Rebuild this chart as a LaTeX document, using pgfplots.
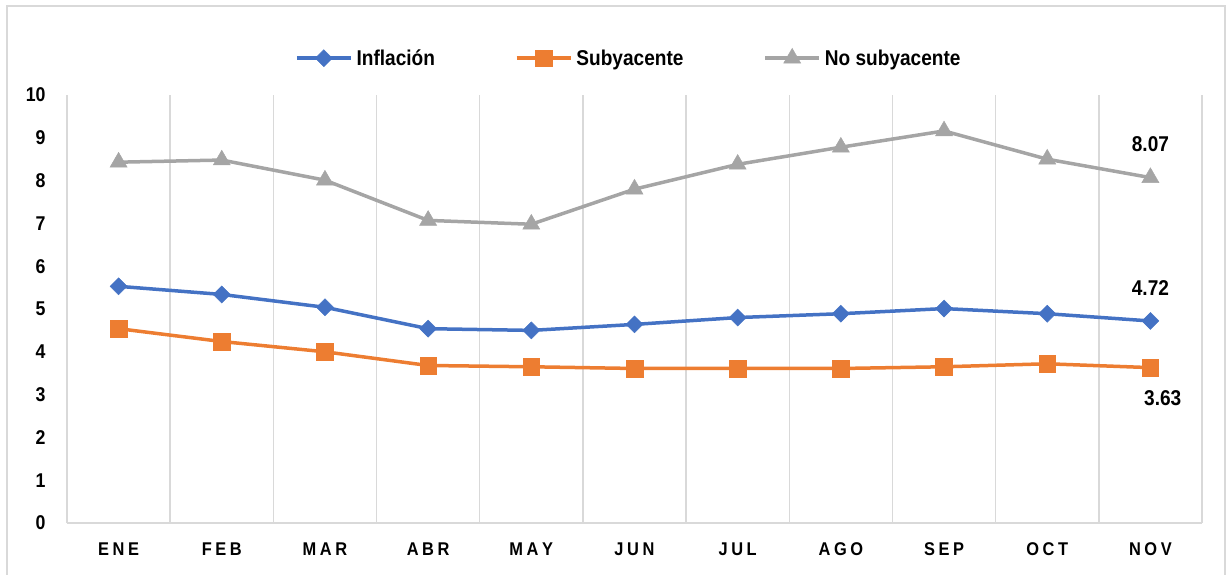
\documentclass[border=0pt]{standalone}
\usepackage{pgfplots}
\pgfplotsset{compat=1.18}
\usepackage{fontspec}
\setmainfont{Liberation Sans}[FakeStretch=0.89]
\definecolor{cblue}{HTML}{4472C4}
\definecolor{corange}{HTML}{ED7D31}
\definecolor{cgray}{HTML}{A5A5A5}
\definecolor{gridgray}{HTML}{D9D9D9}
\newcommand{\lsp}{\kern3.6bp}
\begin{document}
\begin{tikzpicture}
\useasboundingbox (0,0) rectangle (1231bp,575bp);
\draw[gridgray, line width=1.5bp] (7bp,-10bp) rectangle (1225bp,569bp);
\begin{axis}[
  at={(67bp,52bp)}, anchor=south west,
  scale only axis, width=1135bp, height=428bp,
  xmin=-0.5, xmax=10.5, ymin=0, ymax=10,
  xtick={0,...,10},
  xticklabels={E\lsp N\lsp E, F\lsp E\lsp B, M\lsp A\lsp R, A\lsp B\lsp R, M\lsp A\lsp Y, J\lsp U\lsp N, J\lsp U\lsp L, A\lsp G\lsp O, S\lsp E\lsp P, O\lsp C\lsp T, N\lsp O\lsp V},
  ytick={0,...,10},
  minor xtick={-0.5,0.5,...,10.5},
  xminorgrids, minor grid style={gridgray, line width=1.5bp},
  major tick length=0pt, minor tick length=0pt,
  axis line style={draw=none},
  /pgf/number format/assume math mode=true,
  x tick label style={font=\fontsize{18.5}{20}\selectfont\bfseries, yshift=-16bp},
  y tick label style={font=\fontsize{20}{22}\selectfont\bfseries, xshift=-18bp},
  legend columns=3,
  legend style={draw=none, fill=none, at={(0.495,1.0)}, anchor=south, yshift=24bp,
    font=\fontsize{21.5}{23}\selectfont\bfseries,
    /tikz/every odd column/.append style={column sep=2bp},
    /tikz/every even column/.append style={column sep=78bp}},
  legend image code/.code={
    \draw[#1, mark repeat=2, mark phase=2] plot coordinates {(0bp,0bp) (27bp,0bp) (54bp,0bp)};
  },
  every axis plot/.append style={line width=3.5bp},
  clip=false,
]
\draw[gridgray, line width=1.5bp] (rel axis cs:0,0) -- (rel axis cs:1,0);
\addplot[cblue, mark=square*, mark size=6bp, mark options={rotate=45, line width=0.5bp}] coordinates {
(0,5.53) (1,5.34) (2,5.04) (3,4.54) (4,4.50) (5,4.64) (6,4.80) (7,4.89) (8,5.01) (9,4.89) (10,4.72)};
\addlegendentry{Inflación}
\addplot[corange, mark=square*, mark size=8.3bp, mark options={line width=0.5bp}] coordinates {
(0,4.54) (1,4.24) (2,4.00) (3,3.68) (4,3.65) (5,3.61) (6,3.61) (7,3.61) (8,3.65) (9,3.72) (10,3.63)};
\addlegendentry{Subyacente}
\addplot[cgray, mark=triangle*, mark size=9.8bp, mark options={line width=0.5bp}] coordinates {
(0,8.43) (1,8.48) (2,8.01) (3,7.07) (4,6.98) (5,7.80) (6,8.38) (7,8.78) (8,9.16) (9,8.50) (10,8.07)};
\addlegendentry{No subyacente}
\node[font=\fontsize{21.5}{23}\selectfont\bfseries] at (axis cs:10,8.07) [yshift=33bp] {8.07};
\node[font=\fontsize{21.5}{23}\selectfont\bfseries] at (axis cs:10,4.72) [yshift=33bp] {4.72};
\node[font=\fontsize{21.5}{23}\selectfont\bfseries] at (axis cs:10.12,3.63) [yshift=-31bp] {3.63};
\end{axis}
\end{tikzpicture}
\end{document}
